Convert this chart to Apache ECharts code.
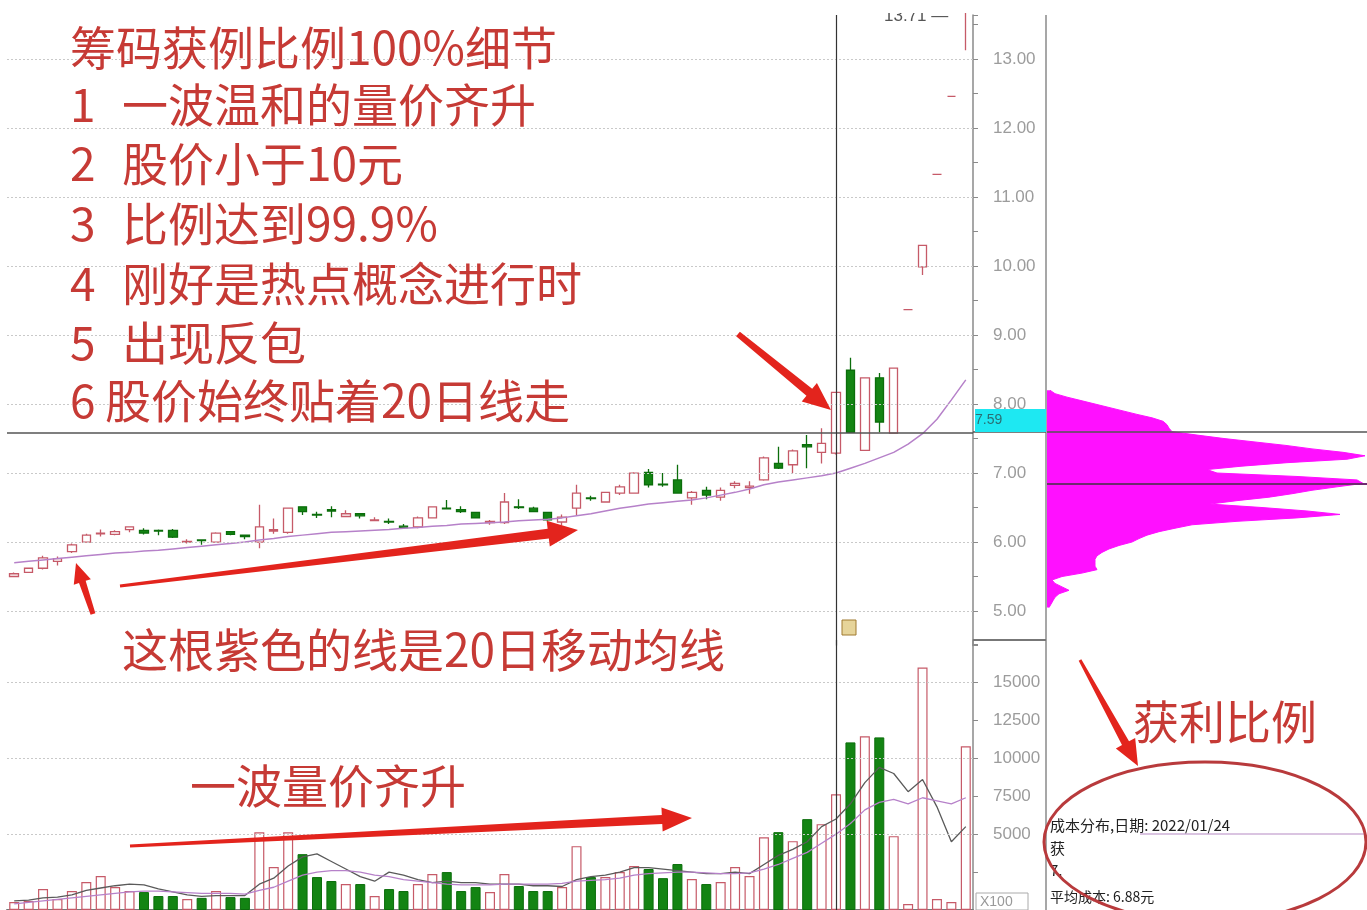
<!DOCTYPE html>
<html><head><meta charset="utf-8">
<script src="https://cdn.jsdelivr.net/npm/echarts@6/dist/echarts.min.js"></script>
<style>html,body{margin:0;padding:0;background:#fff}#c{width:1367px;height:910px}</style>
</head><body><div id="c"></div>
<script>
// ---------- data ----------
const categories = Array.from({length: 67}, (_, i) => 'D' + (i + 1));
const open = [5.50,5.56,5.62,5.72,5.86,6.00,6.12,6.11,6.18,6.17,
  6.17,6.17,6.00,6.03,6.00,6.15,6.10,6.00,6.16,6.14,
  6.51,6.40,6.47,6.37,6.41,6.31,6.30,6.23,6.22,6.35,
  6.49,6.47,6.43,6.28,6.28,6.51,6.49,6.43,6.29,6.49,
  6.64,6.58,6.71,6.71,7.01,6.84,6.90,6.64,6.75,6.65,
  6.82,6.79,6.90,7.14,7.12,7.41,7.30,7.29,8.49,7.33,
  8.38,7.58,9.37,9.99,11.33,12.46,13.71];
const close = [5.54,5.62,5.77,5.76,5.96,6.10,6.13,6.15,6.22,6.13,
  6.16,6.07,6.01,6.02,6.13,6.11,6.08,6.22,6.18,6.49,
  6.44,6.39,6.45,6.41,6.38,6.32,6.29,6.21,6.35,6.51,
  6.48,6.44,6.35,6.30,6.58,6.50,6.44,6.32,6.36,6.71,
  6.63,6.72,6.80,7.00,6.83,6.83,6.71,6.72,6.68,6.75,
  6.85,6.81,7.22,7.07,7.32,7.38,7.43,8.17,7.59,8.38,
  7.74,8.52,9.37,10.30,11.33,12.46,13.71];
const low = [5.49,5.55,5.60,5.66,5.84,5.99,6.08,6.10,6.14,6.11,
  6.10,6.06,5.98,5.96,5.99,6.10,6.04,5.91,6.12,6.12,
  6.39,6.35,6.36,6.36,6.34,6.30,6.26,6.19,6.20,6.34,
  6.47,6.42,6.34,6.25,6.26,6.48,6.43,6.31,6.24,6.39,
  6.60,6.57,6.68,6.70,6.79,6.80,6.70,6.54,6.62,6.60,
  6.78,6.70,6.89,7.06,7.00,7.07,7.14,7.27,7.58,7.32,
  7.59,7.57,9.37,9.87,11.33,12.46,13.13];
const high = [5.56,5.63,5.80,5.79,5.98,6.12,6.18,6.17,6.23,6.20,
  6.18,6.19,6.04,6.04,6.14,6.16,6.11,6.54,6.34,6.50,
  6.52,6.44,6.52,6.46,6.42,6.36,6.34,6.26,6.37,6.52,
  6.61,6.52,6.44,6.32,6.71,6.62,6.51,6.44,6.40,6.83,
  6.67,6.73,6.83,7.01,7.06,7.00,7.12,6.74,6.80,6.79,
  6.88,6.88,7.24,7.38,7.34,7.55,7.65,8.18,8.67,8.39,
  8.45,8.53,9.37,10.30,11.33,12.46,13.71];
const ma20 = [5.70,5.72,5.74,5.76,5.78,5.80,5.82,5.84,5.85,5.87,
  5.88,5.90,5.92,5.94,5.96,5.98,6.00,6.03,6.05,6.08,
  6.10,6.12,6.14,6.15,6.16,6.17,6.18,6.20,6.21,6.23,
  6.24,6.26,6.27,6.28,6.29,6.31,6.32,6.33,6.35,6.38,
  6.41,6.45,6.49,6.52,6.55,6.57,6.59,6.61,6.64,6.68,
  6.72,6.77,6.83,6.87,6.90,6.93,6.96,7.00,7.07,7.14,
  7.22,7.30,7.42,7.57,7.78,8.06,8.35];
const volume = [530,600,1380,720,1250,1840,2240,1510,1250,1180,
  920,920,720,800,1250,850,800,5130,2830,5130,
  3680,2170,1910,1710,1710,920,1380,1250,1710,2370,
  2500,1250,1510,1180,2370,1580,1250,1250,1510,4210,
  2170,2170,2500,2900,2700,2100,3030,2040,1710,1840,
  2830,2240,4800,5130,4540,5990,5660,7630,11050,11450,
  11380,4870,390,15990,720,530,10790];
const volMa5 = [600,650,800,850,1000,1300,1450,1600,1700,1650,
  1400,1200,1000,900,950,950,950,1700,2100,2900,
  3500,3700,3200,2700,2200,1900,2500,2300,2000,1800,
  1900,1800,1800,1700,1700,1700,1600,1600,1550,2000,
  2200,2300,2500,2800,2800,2700,2600,2500,2400,2400,
  2500,2400,3000,3600,4000,4500,5500,6000,7000,8400,
  9400,9000,7800,8600,6800,4500,5500];
const volMa10 = [400,500,600,700,800,900,1000,1100,1200,1250,
  1250,1200,1150,1100,1100,1100,1050,1300,1500,1900,
  2300,2500,2600,2600,2500,2300,2200,2000,1900,1800,
  1700,1650,1650,1650,1700,1700,1700,1700,1750,1900,
  1950,2000,2100,2300,2400,2450,2500,2500,2450,2400,
  2400,2450,2700,3000,3400,3800,4400,5000,5700,6600,
  7100,7300,7000,7400,7200,7000,7400];
const chipPrices = ['5.05','5.10','5.15','5.20','5.25','5.30','5.35','5.40','5.45','5.50',
  '5.55','5.60','5.65','5.70','5.75','5.80','5.85','5.90','5.95','6.00',
  '6.05','6.10','6.15','6.20','6.25','6.30','6.35','6.40','6.45','6.50',
  '6.55','6.60','6.65','6.70','6.75','6.80','6.85','6.90','6.95','7.00',
  '7.05','7.10','7.15','7.20','7.25','7.30','7.35','7.40','7.45','7.50',
  '7.55','7.60','7.65','7.70','7.75','7.80','7.85','7.90','7.95','8.00',
  '8.05','8.10','8.15','8.20'];
const chipAmount = [2,4,6,8,12,22,15,8,5,15,
  35,50,48,48,48,50,55,62,72,85,
  92,100,112,128,145,190,250,293,260,215,
  163,190,222,245,265,290,316,310,250,170,
  160,195,240,300,318,296,265,239,208,177,
  150,125,122,120,116,105,90,76,62,48,
  34,20,8,3];
const priceGridLevels = [5,6,7,8,9,10,11,12,13];
const volGridLevels = [5000,10000,15000];
const crossPrice = 7.59, crossIndex = 57, avgCostLevel = '6.85', crossChipLevel = '7.60';

// ---------- styles ----------
const UP = '#c65a68', DOWN = '#138413', DOWN_B = '#0b6d0b', PURPLE = '#b681c9';
const RED = '#c63a35', ARROW = '#e3241d', CHIP = '#ff10ff';
const isUp = i => close[i] > open[i] || (close[i] === open[i] && (i === 0 || close[i] >= close[i-1]));
const candleData = categories.map((_, i) => [open[i], close[i], low[i], high[i]]);
const volData = volume.map((v, i) => ({value: v, itemStyle: isUp(i)
  ? {color: '#fff', borderColor: UP, borderWidth: 1.2}
  : {color: DOWN, borderColor: DOWN_B, borderWidth: 1}}));

function arrowPts(x1,y1,x2,y2,w0,w1,hl,hw){
  const dx=x2-x1, dy=y2-y1, L=Math.hypot(dx,dy), ux=dx/L, uy=dy/L, nx=-uy, ny=ux;
  const bx=x2-ux*hl, by=y2-uy*hl;
  return [[x1+nx*w0/2,y1+ny*w0/2],[bx+nx*w1/2,by+ny*w1/2],[bx+nx*hw/2,by+ny*hw/2],[x2,y2],
          [bx-nx*hw/2,by-ny*hw/2],[bx-nx*w1/2,by-ny*w1/2],[x1-nx*w0/2,y1-ny*w0/2]];
}
const arrow = (pts) => ({type:'polygon', z:100, shape:{points:pts}, style:{fill:ARROW}});
const cjk = '"Noto Sans CJK SC", sans-serif';
const txt = (x, y, s, size, color) => ({type:'text', z:100, x, y,
  style:{text:s, font:`${size}px ${cjk}`, fill:color, textVerticalAlign:'middle', textAlign:'left',
  stroke:'rgba(255,255,255,0.85)', lineWidth:2}});

const notes = [
  ['', '筹码获例比例100%细节', 48, 70],
  ['1', '一波温和的量价齐升', 105, 122],
  ['2', '股价小于10元', 164, 122],
  ['3', '比例达到99.9%', 224, 122],
  ['4', '刚好是热点概念进行时', 284, 122],
  ['5', '出现反包', 343, 122],
  ['6', '股价始终贴着20日线走', 401, 105]
];
const graphics = [];
notes.forEach(n => {
  if (n[0]) graphics.push(txt(70, n[2], n[0], 46, RED));
  graphics.push(txt(n[3], n[2], n[1], 46, RED));
});
graphics.push(txt(122, 650, '这根紫色的线是20日移动均线', 46, RED));
graphics.push(txt(190, 786, '一波量价齐升', 46, RED));
graphics.push(txt(1133, 722, '获利比例', 46, RED));
graphics.push(arrow(arrowPts(738,334,831,410,6,9,28,24)));
graphics.push(arrow(arrowPts(120,586,578,530,3,10,30,26)));
graphics.push(arrow(arrowPts(93,614,76,563,5,7,20,18)));
graphics.push(arrow(arrowPts(130,846,692,818,3,9,30,24)));
graphics.push(arrow(arrowPts(1080,660,1138,766,3,8,26,22)));
graphics.push({type:'ellipse', z:100, shape:{cx:1205, cy:842, rx:161, ry:80}, style:{fill:'none', stroke:'#b83a3c', lineWidth:3}});
// frame lines
graphics.push({type:'line', z:5, shape:{x1:1046, y1:15, x2:1046, y2:910}, style:{stroke:'#8a8a8a', lineWidth:1.5}});
graphics.push({type:'line', z:5, shape:{x1:973, y1:640, x2:1046, y2:640}, style:{stroke:'#777', lineWidth:2}});
graphics.push({type:'line', z:5, shape:{x1:973, y1:432, x2:1046, y2:432}, style:{stroke:'#555', lineWidth:1.5}});
// cyan price tag
graphics.push({type:'rect', z:50, shape:{x:975, y:409, width:71, height:23}, style:{fill:'#1ee8f2'}});
graphics.push({type:'text', z:51, x:975, y:420, style:{text:'7.59', font:'14px "Liberation Sans", sans-serif', fill:'#2a6f74', textVerticalAlign:'middle'}});
// top max label
graphics.push({type:'text', z:60, x:884, y:16, style:{text:'13.71 —', font:'17px "Liberation Sans", sans-serif', fill:'#555', textVerticalAlign:'middle'}});
graphics.push({type:'rect', z:61, shape:{x:860, y:0, width:120, height:13}, style:{fill:'#fff'}});
// small icon
graphics.push({type:'rect', z:60, shape:{x:842, y:620, width:14, height:15}, style:{fill:'#e6d49a', stroke:'#a07a30', lineWidth:1}});
// X100 box
graphics.push({type:'rect', z:60, shape:{x:976, y:893, width:52, height:17}, style:{fill:'#fff', stroke:'#aaa', lineWidth:1}});
graphics.push({type:'text', z:61, x:980, y:902, style:{text:'X100', font:'14px "Liberation Sans", sans-serif', fill:'#999', textVerticalAlign:'middle'}});
// chip info
graphics.push({type:'text', z:60, x:1050, y:825, style:{text:'成本分布,日期: 2022/01/24', font:`15px ${cjk}`, fill:'#222', textVerticalAlign:'middle'}});
graphics.push({type:'line', z:60, shape:{x1:1140, y1:834, x2:1365, y2:834}, style:{stroke:'#b58ac4', lineWidth:1.2}});
graphics.push({type:'text', z:60, x:1050, y:848, style:{text:'获', font:`15px ${cjk}`, fill:'#222', textVerticalAlign:'middle'}});
graphics.push({type:'text', z:60, x:1050, y:870, style:{text:'7.', font:`15px ${cjk}`, fill:'#222', textVerticalAlign:'middle'}});
graphics.push({type:'text', z:60, x:1050, y:897, style:{text:'平均成本: 6.88元', font:`14px ${cjk}`, fill:'#222', textVerticalAlign:'middle'}});

const axisFont = {color:'#9c9c9c', fontSize:17, fontFamily:'"Liberation Sans", sans-serif', margin:20};
const gridLine = (v) => ({yAxis: v, lineStyle:{color:'#c9c9c9', type:[2,2], width:1}});

const option = {
  animation: false,
  backgroundColor: '#fff',
  grid: [
    {left:7, right:394, top:15, bottom:264.5},
    {left:7, right:394, top:640, bottom:0},
    {left:1047, right:0, top:388.5, bottom:300.7}
  ],
  xAxis: [
    {type:'category', gridIndex:0, data:categories, show:false},
    {type:'category', gridIndex:1, data:categories, position:'top', axisLine:{show:true, lineStyle:{color:'#777', width:2}}, axisTick:{show:false}, axisLabel:{show:false}},
    {type:'value', gridIndex:2, min:0, max:320, show:false}
  ],
  yAxis: [
    {type:'value', gridIndex:0, position:'right', min:4.5, max:13.64, interval:0.5, scale:true,
     axisLine:{show:true, lineStyle:{color:'#8a8a8a', width:1.5}},
     axisTick:{show:true, length:5, lineStyle:{color:'#8a8a8a'}},
     splitLine:{show:false},
     axisLabel: Object.assign({formatter: v => (Math.abs(v - Math.round(v)) < 1e-6 && v >= 5 && v <= 13) ? v.toFixed(2) : ''}, axisFont)},
    {type:'value', gridIndex:1, position:'right', min:0, max:17800, interval:2500,
     axisLine:{show:true, lineStyle:{color:'#8a8a8a', width:1.5}},
     axisTick:{show:true, length:5, lineStyle:{color:'#8a8a8a'}},
     splitLine:{show:false},
     axisLabel: Object.assign({formatter: v => (v >= 5000 && v <= 15000) ? String(v) : ''}, axisFont)},
    {type:'category', gridIndex:2, data:chipPrices, show:false, boundaryGap:true}
  ],
  series: [
    {type:'candlestick', xAxisIndex:0, yAxisIndex:0, data:candleData, barWidth:9,
     itemStyle:{color:'#fff', color0:DOWN, borderColor:UP, borderColor0:DOWN_B, borderWidth:1.3},
     markLine:{silent:true, symbol:'none', label:{show:false},
       data: priceGridLevels.map(gridLine).concat([
         {yAxis: crossPrice, lineStyle:{color:'#555', type:'solid', width:1.5}},
         {xAxis: categories[crossIndex], lineStyle:{color:'#333', type:'solid', width:1.2}}
       ])}},
    {type:'line', xAxisIndex:0, yAxisIndex:0, data:ma20, symbol:'none', lineStyle:{color:PURPLE, width:1.5}, z:3},
    {type:'bar', xAxisIndex:1, yAxisIndex:1, data:volData, barWidth:10,
     markLine:{silent:true, symbol:'none', label:{show:false},
       data: volGridLevels.map(gridLine).concat([
         {xAxis: categories[crossIndex], lineStyle:{color:'#333', type:'solid', width:1.2}}
       ])}},
    {type:'line', xAxisIndex:1, yAxisIndex:1, data:volMa5, symbol:'none', lineStyle:{color:'#5a5a5a', width:1.3}, z:3},
    {type:'line', xAxisIndex:1, yAxisIndex:1, data:volMa10, symbol:'none', lineStyle:{color:PURPLE, width:1.3}, z:3},
    {type:'line', xAxisIndex:2, yAxisIndex:2, data:chipAmount, symbol:'none',
     lineStyle:{color:CHIP, width:1}, areaStyle:{color:CHIP, opacity:1},
     markLine:{silent:true, symbol:'none', label:{show:false},
       data:[
         {yAxis: crossChipLevel, lineStyle:{color:'#555', type:'solid', width:1.5}},
         {yAxis: avgCostLevel, lineStyle:{color:'#6e2a70', type:'solid', width:2}}
       ]}}
  ],
  graphic: graphics
};
const chart = echarts.init(document.getElementById('c'));
chart.setOption(option);
</script></body></html>
